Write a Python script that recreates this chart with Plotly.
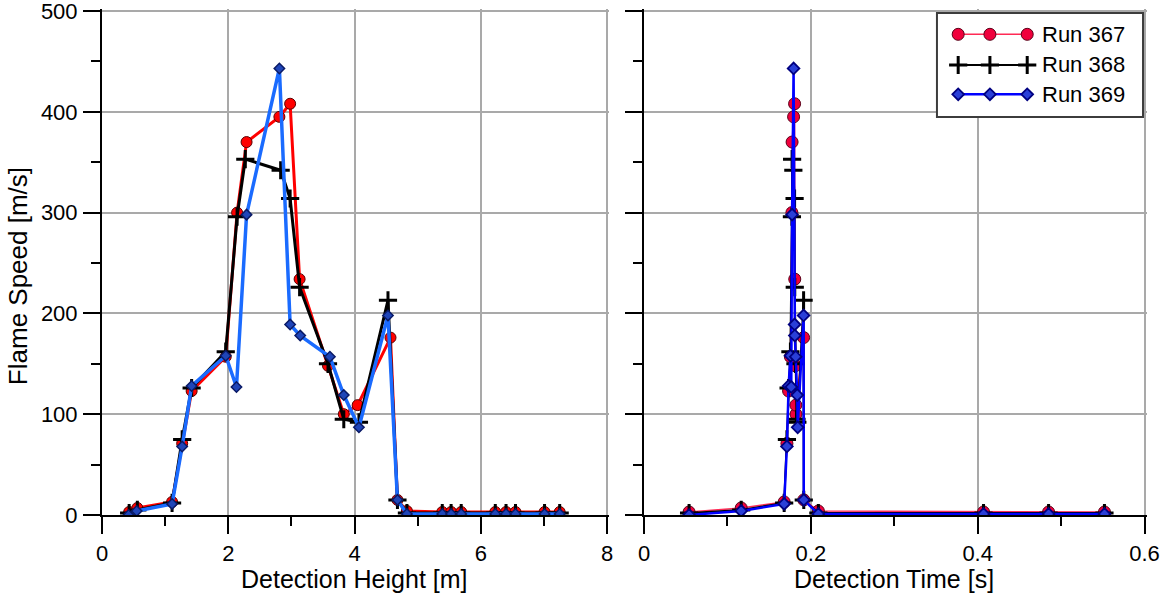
import plotly.graph_objects as go

# ---- flame speed vs detection height (left panel) ----
height_367 = [0.43, 0.56, 1.11, 1.27, 1.42, 1.96, 2.14, 2.29, 2.81, 2.98, 3.13, 3.58, 3.83,
              4.05, 4.57, 4.68, 4.83, 5.39, 5.53, 5.69, 6.23, 6.40, 6.55, 7.01, 7.25]
speed_367 = [3, 7, 13, 71, 123, 157, 300, 370, 395, 408, 234, 148, 100,
             109, 176, 15, 4, 3, 3, 3, 3, 3, 3, 3, 3]

height_368 = [0.43, 0.56, 1.11, 1.27, 1.42, 1.96, 2.14, 2.27, 2.83, 2.98, 3.13, 3.58, 3.83,
              4.07, 4.53, 4.68, 4.83, 5.39, 5.53, 5.69, 6.23, 6.40, 6.55, 7.01, 7.25]
speed_368 = [2, 5, 12, 75, 126, 162, 296, 353, 342, 314, 226, 150, 95,
             92, 213, 15, 2, 2, 2, 2, 2, 2, 2, 2, 2]

height_369 = [0.42, 0.55, 1.11, 1.27, 1.42, 1.96, 2.13, 2.29, 2.81, 2.98, 3.14, 3.61, 3.83,
              4.07, 4.53, 4.68, 4.83, 5.39, 5.53, 5.69, 6.23, 6.40, 6.55, 7.01, 7.25]
speed_369 = [0, 4, 11, 68, 128, 158, 127, 298, 443, 189, 178, 157, 119,
             87, 198, 15, 1, 1, 1, 1, 1, 1, 1, 1, 1]

# ---- flame speed vs detection time (right panel) ----
time_367 = [0.054, 0.1165, 0.168, 0.1713, 0.1733, 0.1755, 0.1773, 0.1775, 0.1793, 0.1805,
            0.1807, 0.1813, 0.1822, 0.1820, 0.1913, 0.1915, 0.209, 0.407, 0.485, 0.552]
speed_t_367 = [3, 7, 13, 71, 123, 157, 300, 370, 395, 408,
               234, 148, 100, 109, 176, 15, 4, 3, 3, 3]

time_368 = [0.054, 0.1165, 0.168, 0.1713, 0.1733, 0.1755, 0.1773, 0.1775, 0.1790, 0.1805,
            0.1807, 0.1815, 0.1828, 0.1838, 0.1913, 0.1915, 0.209, 0.407, 0.485, 0.552]
speed_t_368 = [2, 5, 12, 75, 126, 162, 296, 353, 342, 314,
               226, 150, 95, 92, 213, 15, 2, 2, 2, 2]

time_369 = [0.054, 0.1165, 0.168, 0.1713, 0.1733, 0.1755, 0.1765, 0.1775, 0.1793, 0.1805,
            0.1808, 0.1818, 0.1837, 0.1842, 0.1913, 0.1915, 0.209, 0.407, 0.485, 0.552]
speed_t_369 = [0, 4, 11, 68, 128, 158, 127, 298, 443, 189,
               178, 157, 119, 87, 198, 15, 1, 1, 1, 1]

run_names = ["Run 367", "Run 368", "Run 369"]

FONT = "Liberation Sans, Arial, sans-serif"

fig = go.Figure()

# left panel styles
left_styles = [
    dict(line=dict(color="#ff0000", width=3),
         marker=dict(symbol="circle", size=11, color="#ff0000",
                     line=dict(color="#5a0000", width=1))),
    dict(line=dict(color="#000000", width=3),
         marker=dict(symbol="cross-thin", size=13, color="#000000",
                     line=dict(color="#000000", width=3))),
    dict(line=dict(color="#1a6bff", width=3.5),
         marker=dict(symbol="diamond", size=8, color="#1f45b8",
                     line=dict(color="#0a1a66", width=1.5))),
]
# right panel styles
right_styles = [
    dict(line=dict(color="#ff2a55", width=1.5),
         marker=dict(symbol="circle", size=12, color="#f0003c",
                     line=dict(color="#5a0018", width=1))),
    dict(line=dict(color="#000000", width=2),
         marker=dict(symbol="cross-thin", size=13, color="#000000",
                     line=dict(color="#000000", width=3))),
    dict(line=dict(color="#0000ff", width=2.5),
         marker=dict(symbol="diamond", size=9, color="#2a3fd8",
                     line=dict(color="#000080", width=1.8))),
]

left_series = [(height_367, speed_367), (height_368, speed_368), (height_369, speed_369)]
right_series = [(time_367, speed_t_367), (time_368, speed_t_368), (time_369, speed_t_369)]

for name, (xs, ys), st in zip(run_names, left_series, left_styles):
    fig.add_trace(go.Scatter(x=xs, y=ys, mode="lines+markers", name=name,
                             showlegend=False, xaxis="x", yaxis="y", **st))

for name, (xs, ys), st in zip(run_names, right_series, right_styles):
    fig.add_trace(go.Scatter(x=xs, y=ys, mode="lines+markers", name=name,
                             showlegend=False, xaxis="x2", yaxis="y2", **st))

# legend drawn on its own small hidden axis pair, three sample markers per row
legend_x = [0.103, 0.257, 0.438]
legend_rows = [0.795, 0.5, 0.218]
for name, row, st in zip(run_names, legend_rows, right_styles):
    fig.add_trace(go.Scatter(x=legend_x, y=[row] * 3, mode="lines+markers",
                             showlegend=False, hoverinfo="skip",
                             xaxis="x3", yaxis="y3", **st))
    fig.add_annotation(x=0.5, y=row, xref="x3", yref="y3", text=name,
                       showarrow=False, xanchor="left", yanchor="middle",
                       font=dict(family=FONT, size=22, color="#000000"))

tick_font = dict(family=FONT, size=22, color="#000000")
major = dict(ticks="outside", ticklen=17, tickwidth=2, tickcolor="#000000",
             showline=True, linecolor="#000000", linewidth=2,
             showgrid=True, gridcolor="#a9a9a9", gridwidth=1.5,
             zeroline=False, tickfont=tick_font, ticklabelstandoff=1,
             ticklabeloverflow="allow", automargin=False)
minor = dict(ticklen=9, tickwidth=2, tickcolor="#000000", showgrid=False)

# axis ranges run a hair past the last tick so the edge grid lines are kept
LEFT_DOM = [0.0, 0.4851]
RIGHT_DOM = [0.5187, 1.0]
Y_RANGE = [0, 502]

fig.update_layout(
    width=1160, height=594,
    margin=dict(l=102, r=13, t=9, b=79, autoexpand=False),
    paper_bgcolor="white", plot_bgcolor="white",
    font=dict(family=FONT, color="#000000"),
    xaxis=dict(domain=LEFT_DOM, range=[0, 8.03], dtick=2, tick0=0,
               minor=dict(dtick=1, **minor), anchor="y", **major),
    yaxis=dict(domain=[0, 1], range=Y_RANGE, dtick=100, tick0=0,
               minor=dict(dtick=50, **minor), anchor="x", **major),
    xaxis2=dict(domain=RIGHT_DOM, range=[0, 0.603], dtick=0.2, tick0=0,
                minor=dict(dtick=0.1, **minor), anchor="y2", **major),
    yaxis2=dict(domain=[0, 1], range=Y_RANGE, dtick=100, tick0=0,
                minor=dict(dtick=50, **minor), anchor="x2",
                showticklabels=False, **major),
    xaxis3=dict(domain=[0.799, 0.9962], range=[0, 1], visible=False,
                fixedrange=True),
    yaxis3=dict(domain=[0.7866, 0.9921], range=[0, 1], visible=False,
                fixedrange=True, anchor="x3"),
    showlegend=False,
)

# legend frame (transparent so the grid shows through)
fig.add_shape(type="rect", xref="x3 domain", yref="y3 domain",
              x0=0, x1=1, y0=0, y1=1,
              line=dict(color="#3c3c3c", width=2), fillcolor="rgba(0,0,0,0)")

fig.add_annotation(x=-0.0804, y=0.472, xref="paper", yref="paper",
                   text="Flame Speed [m/s]", textangle=-90, showarrow=False,
                   xanchor="center", yanchor="middle",
                   font=dict(family=FONT, size=26, color="#000000"))
x_title_font = dict(family=FONT, size=25, color="#000000")
fig.add_annotation(x=0.2416, y=-0.1265, xref="paper", yref="paper",
                   text="Detection Height [m]", showarrow=False,
                   xanchor="center", yanchor="middle", font=x_title_font)
fig.add_annotation(x=0.758, y=-0.1265, xref="paper", yref="paper",
                   text="Detection Time [s]", showarrow=False,
                   xanchor="center", yanchor="middle", font=x_title_font)

fig.write_html("out.html")
